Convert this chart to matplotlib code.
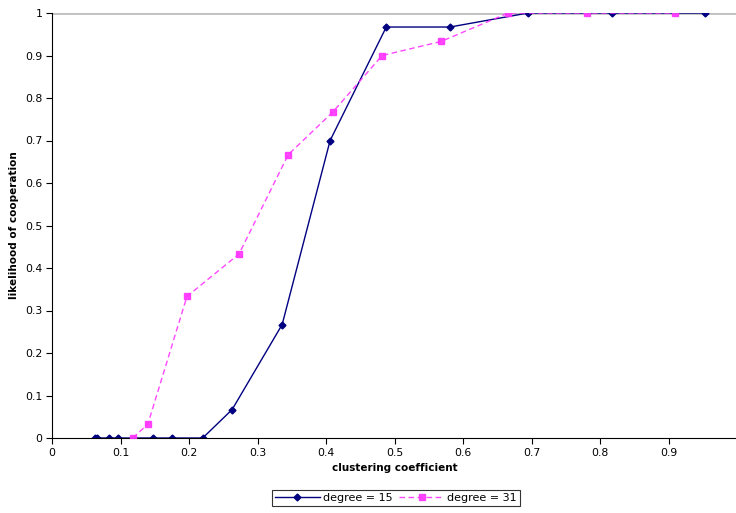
import matplotlib
matplotlib.use("Agg")
import matplotlib.pyplot as plt

# degree = 15 series
deg15_x = [0.063, 0.066, 0.083, 0.096, 0.148, 0.175, 0.220, 0.263, 0.336,
           0.406, 0.488, 0.581, 0.695, 0.818, 0.953]
deg15_y = [0, 0, 0, 0, 0, 0, 0, 0.067, 0.267, 0.70, 0.967, 0.967, 1, 1, 1]

# degree = 31 series
deg31_x = [0.118, 0.140, 0.197, 0.273, 0.345, 0.410, 0.482, 0.568, 0.666,
           0.781, 0.909]
deg31_y = [0, 0.033, 0.333, 0.433, 0.667, 0.767, 0.90, 0.933, 1, 1, 1]

x_ticks = [0, 0.1, 0.2, 0.3, 0.4, 0.5, 0.6, 0.7, 0.8, 0.9]
x_tick_labels = ["0", "0.1", "0.2", "0.3", "0.4", "0.5", "0.6", "0.7", "0.8", "0.9"]
y_ticks = [0, 0.1, 0.2, 0.3, 0.4, 0.5, 0.6, 0.7, 0.8, 0.9, 1]
y_tick_labels = ["0", "0.1", "0.2", "0.3", "0.4", "0.5", "0.6", "0.7", "0.8", "0.9", "1"]

BLUE = "#000080"
PINK = "#FF33FF"

fig = plt.figure(figsize=(7.36, 5.13), dpi=100)
ax = fig.add_axes([52 / 736, 75 / 513, 685 / 736, 425 / 513])

# top gridline at 1
ax.axhline(1.0, color="#c0c0c0", linewidth=2.0, zorder=1)

ax.plot(deg15_x, deg15_y, color=BLUE, linewidth=1.0, marker="D",
        markersize=3.5, label="degree = 15", zorder=2)
ax.plot(deg31_x, deg31_y, color=PINK, linewidth=1.0, linestyle=(0, (4, 2.5)),
        marker="s", markersize=4.5, markeredgecolor=PINK, label="degree = 31",
        zorder=3, alpha=0.9)

ax.set_xlim(0, 1)
ax.set_ylim(0, 1)
ax.set_xticks(x_ticks)
ax.set_xticklabels(x_tick_labels)
ax.set_yticks(y_ticks)
ax.set_yticklabels(y_tick_labels)
ax.tick_params(direction="out", length=4, width=0.8, labelsize=7.8, colors="black", pad=3)

for side in ("top", "right"):
    ax.spines[side].set_visible(False)
for side in ("left", "bottom"):
    ax.spines[side].set_linewidth(0.8)
    ax.spines[side].set_color("black")

ax.set_xlabel("clustering coefficient", fontsize=7.5, fontweight="bold", labelpad=4)
ax.set_ylabel("likelihood of cooperation", fontsize=7.5, fontweight="bold", labelpad=4)

leg = fig.legend(loc="lower center", bbox_to_anchor=(396 / 736, 1 / 513), ncol=2,
                 fontsize=8, frameon=True, fancybox=False, edgecolor="black",
                 handlelength=4.0, columnspacing=0.6, handletextpad=0.3,
                 borderpad=0.3)
leg.get_frame().set_linewidth(0.8)

fig.savefig("out.png", dpi=100)
